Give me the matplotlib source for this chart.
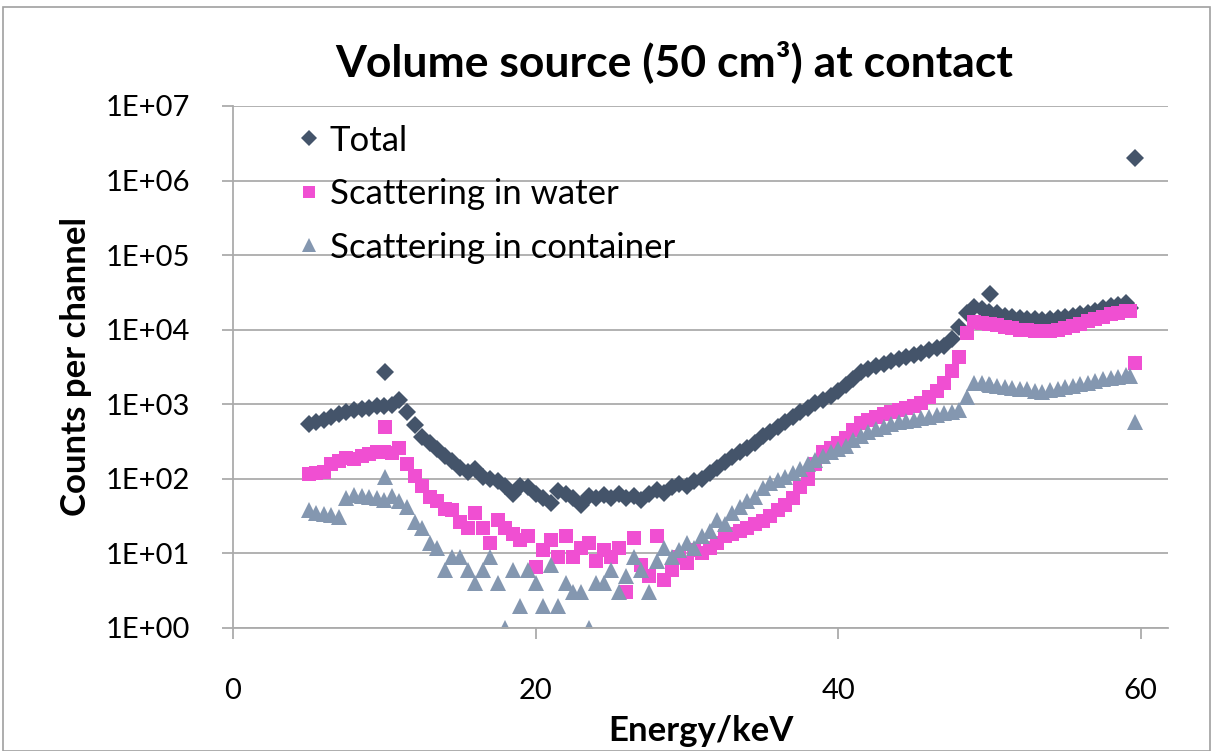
import numpy as np
import matplotlib
matplotlib.use("Agg")
import matplotlib.pyplot as plt
from matplotlib.ticker import FixedLocator, FuncFormatter, NullLocator
from matplotlib.patches import Rectangle

plt.rcParams['font.family'] = ['Lato', 'DejaVu Sans']

# energy channels (keV)
energy = [5.0, 5.5, 6.0, 6.5, 7.0, 7.5, 8.0, 8.5, 9.0, 9.5,
          10.0, 10.05, 10.5, 11.0, 11.5, 12.0, 12.5, 13.0, 13.5, 14.0,
          14.5, 15.0, 15.5, 16.0, 16.5, 17.0, 17.5, 18.0, 18.5, 19.0,
          19.5, 20.0, 20.5, 21.0, 21.5, 22.0, 22.5, 23.0, 23.5, 24.0,
          24.5, 25.0, 25.5, 26.0, 26.5, 27.0, 27.5, 28.0, 28.5, 29.0,
          29.5, 30.0, 30.5, 31.0, 31.5, 32.0, 32.5, 33.0, 33.5, 34.0,
          34.5, 35.0, 35.5, 36.0, 36.5, 37.0, 37.5, 38.0, 38.5, 39.0,
          39.5, 40.0, 40.5, 41.0, 41.5, 42.0, 42.5, 43.0, 43.5, 44.0,
          44.5, 45.0, 45.5, 46.0, 46.5, 47.0, 47.5, 48.0, 48.5, 49.0,
          49.5, 50.0, 50.05, 50.5, 51.0, 51.5, 52.0, 52.5, 53.0, 53.5,
          54.0, 54.5, 55.0, 55.5, 56.0, 56.5, 57.0, 57.5, 58.0, 58.5,
          59.0, 59.3, 59.6]

total = [540, 580, 620, 680, 740, 800, 830, 860, 880, 950,
         960, 2700, 980, 1150, 800, 520, 360, 300, 250, 200,
         175, 140, 125, 135, 105, 100, 95, 80, 62, 80,
         78, 62, 55, 48, 68, 62, 55, 44, 58, 55,
         60, 55, 62, 55, 58, 52, 62, 70, 65, 78,
         85, 80, 95, 100, 120, 140, 170, 195, 230, 260,
         300, 370, 430, 500, 580, 680, 780, 900, 1050, 1150,
         1300, 1500, 1800, 2200, 2700, 3000, 3300, 3500, 3800, 4000,
         4300, 4600, 4900, 5300, 5600, 6000, 7500, 11000, 17000, 20000,
         19000, 17500, 30000, 16500, 15500, 15000, 14500, 14000, 14000, 13500,
         14000, 14500, 15000, 15500, 16000, 17000, 18000, 19500, 20500, 21500,
         22500, 19500, 2.0e6]

water = [115, 120, 125, 160, 175, 190, 185, 200, 215, 230,
         230, 500, 220, 260, 160, 110, 80, 57, 50, 40,
         38, 26, 22, 35, 22, 14, 28, 22, 18, 15,
         17, 6.6, 11, 15, 9, 17, 9, 12, 14, 8,
         11, 9, 12, 3, 16, 7, 5, 17, 4.4, 6,
         9, 7.4, 11, 10, 12, 14, 17, 18, 20, 22,
         25, 27, 32, 38, 45, 55, 78, 100, 160, 230,
         260, 300, 350, 450, 560, 620, 680, 740, 800, 850,
         900, 950, 1050, 1250, 1500, 1900, 2800, 4300, 9000, 12500,
         12300, 12000, 12000, 11500, 11000, 10500, 10000, 9800, 9500, 9500,
         9600, 10000, 10500, 11200, 12000, 13000, 14000, 15000, 16000, 17000,
         18000, 18000, 3600]

container = [38, 35, 34, 33, 31, 55, 60, 58, 57, 55,
             52, 105, 58, 50, 42, 26, 22, 14, 12, 6,
             9, 9, 6, 4, 6, 9, 4, 1, 6, 2,
             6, 4, 2, 7, 2, 4, 3, 3, 1, 4,
             4, 6, 3, 5, 9, 6, 3, 8, 12, 9,
             11, 14, 12, 17, 20, 28, 25, 35, 42, 50,
             57, 75, 88, 96, 105, 120, 135, 160, 180, 200,
             230, 250, 280, 330, 370, 420, 470, 500, 540, 570,
             600, 620, 650, 680, 720, 760, 800, 850, 1250, 1900,
             1950, 1850, 1800, 1750, 1700, 1650, 1600, 1600, 1500, 1450,
             1550, 1600, 1700, 1750, 1850, 1950, 2050, 2150, 2250, 2350,
             2450, 2400, 580]

series_names = ['Total', 'Scattering in water', 'Scattering in container']
colors = ['#44546A', '#F04FD2', '#8497B0']

fig = plt.figure(figsize=(12.13, 7.51), dpi=100)
ax = fig.add_axes([233/1213, 1-628/751, (1168-233)/1213, (628-106)/751])

ax.plot(energy, total, ls='none', marker='D', ms=9.5, mew=0, color=colors[0], label=series_names[0])
ax.plot(energy, water, ls='none', marker='s', ms=9.5, mew=0, color=colors[1], label=series_names[1])
ax.plot(energy, container, ls='none', marker='^', ms=11, mew=0, color=colors[2], label=series_names[2])

ax.set_yscale('log')
ax.set_ylim(1, 1e7)
ax.set_xlim(0, 61.8)
ax.xaxis.set_major_locator(FixedLocator([0, 20, 40, 60]))
ax.yaxis.set_major_locator(FixedLocator([10.0**k for k in range(8)]))
ax.yaxis.set_minor_locator(NullLocator())
ax.yaxis.set_major_formatter(FuncFormatter(lambda v, p: "1E+%02d" % int(round(np.log10(v)))))

ax.grid(axis='y', color='#ABABAB', lw=1.3)
ax.set_axisbelow(True)
for s in ['top', 'right']:
    ax.spines[s].set_visible(False)
for s in ['left', 'bottom']:
    ax.spines[s].set_color('#ABABAB')
    ax.spines[s].set_linewidth(1.3)
ax.tick_params(axis='both', colors='#ABABAB', width=1.3, length=8, labelsize=21, labelcolor='black')
ax.tick_params(axis='y', pad=23)
ax.tick_params(axis='x', pad=28)

ax.set_xlabel('Energy/keV', fontsize=25, fontweight='bold', labelpad=8)
ax.set_ylabel('Counts per channel', fontsize=25, fontweight='bold', labelpad=10)
fig.text(674/1213, 1-62/751, 'Volume source (50 cm³) at contact', fontsize=32,
         fontweight='bold', ha='center', va='center')

leg = ax.legend(loc='upper left', bbox_to_anchor=(0.048, 0.991), frameon=False,
                fontsize=25, handletextpad=0.1, labelspacing=0.62, borderaxespad=0,
                handlelength=1.0, markerscale=0.9)

fig.patches.append(Rectangle((3/1213, 0), 1-6/1213, 1-7/751, transform=fig.transFigure,
                             fill=False, edgecolor='#A0A0A0', lw=1.2))

fig.savefig('out.png', dpi=100)
